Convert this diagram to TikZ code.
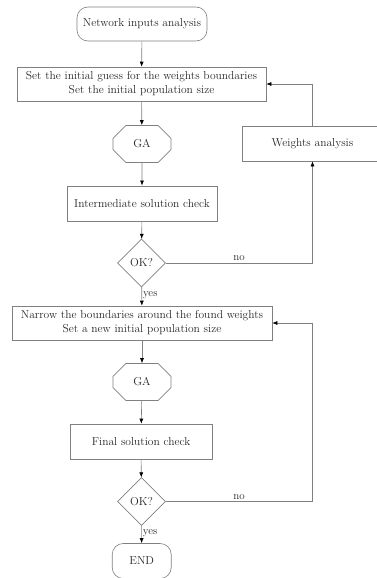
\documentclass[tikz,border=0pt]{standalone}
\usetikzlibrary{shapes.geometric,shapes.misc,arrows.meta}
\begin{document}
\begin{tikzpicture}[x=1pt,y=-1pt,
  every node/.style={font=\fontsize{11.5}{14}\selectfont, text=black!85},
  box/.style={draw=black!50, line width=0.6pt, rectangle, inner sep=0pt, align=center},
  term/.style={draw=black!50, line width=0.6pt, rectangle, rounded corners=11pt, inner sep=0pt},
  oct/.style={draw=black!50, line width=0.6pt, chamfered rectangle, chamfered rectangle xsep=6pt, chamfered rectangle ysep=10pt, inner sep=0pt},
  dec/.style={draw=black!50, line width=0.6pt, diamond, inner sep=0pt, minimum width=48pt, minimum height=48pt},
  conn/.style={draw=black!50, line width=0.6pt, -{Latex[length=5pt,width=4pt,black]}},
  lbl/.style={font=\fontsize{11}{13}\selectfont}
]
\useasboundingbox (0,0) rectangle (376,578);
\node[term, minimum width=130pt, minimum height=34pt] (n1) at (142,24) {Network inputs analysis};
\node[box, minimum width=249pt, minimum height=34pt] (n2) at (141.5,84) {Set the initial guess for the weights boundaries\\Set the initial population size};
\node[oct, minimum width=58pt, minimum height=37pt] (ga1) at (142,144) {GA};
\node[box, minimum width=141pt, minimum height=35pt] (wa) at (312.5,143.5) {Weights analysis};
\node[box, minimum width=150pt, minimum height=35pt] (n3) at (142,203.3) {Intermediate solution check};
\node[dec] (d1) at (141.5,263) {OK?};
\node[box, minimum width=260pt, minimum height=34pt] (n4) at (142,323) {Narrow the boundaries around the found weights\\Set a new initial population size};
\node[oct, minimum width=58pt, minimum height=37pt] (ga2) at (142,382) {GA};
\node[box, minimum width=142pt, minimum height=35pt] (n5) at (141,441.5) {Final solution check};
\node[dec] (d2) at (141.5,501.5) {OK?};
\node[term, minimum width=59pt, minimum height=35pt] (end) at (141.7,561) {END};
\coordinate (c2) at (312.5,501.5);

\draw[conn] (n1) -- (n2);
\draw[conn] (n2) -- (ga1);
\draw[conn] (ga1) -- (n3);
\draw[conn] (n3) -- (d1);
\draw[conn] (d1) -- node[lbl, right, inner sep=1pt, pos=0.45] {yes} (n4);
\draw[conn] (d1.east) -| node[lbl, above, pos=0.25, inner sep=2pt] {no} (wa.south);
\draw[conn] (wa.north) |- (n2.east);
\draw[conn] (n4) -- (ga2);
\draw[conn] (ga2) -- (n5);
\draw[conn] (n5) -- (d2);
\draw[conn] (d2) -- node[lbl, right, inner sep=1pt, pos=0.45] {yes} (end);
\draw[conn] (d2.east) -- node[lbl, above, pos=0.5, inner sep=2pt] {no} (c2) |- (n4.east);
\end{tikzpicture}
\end{document}
